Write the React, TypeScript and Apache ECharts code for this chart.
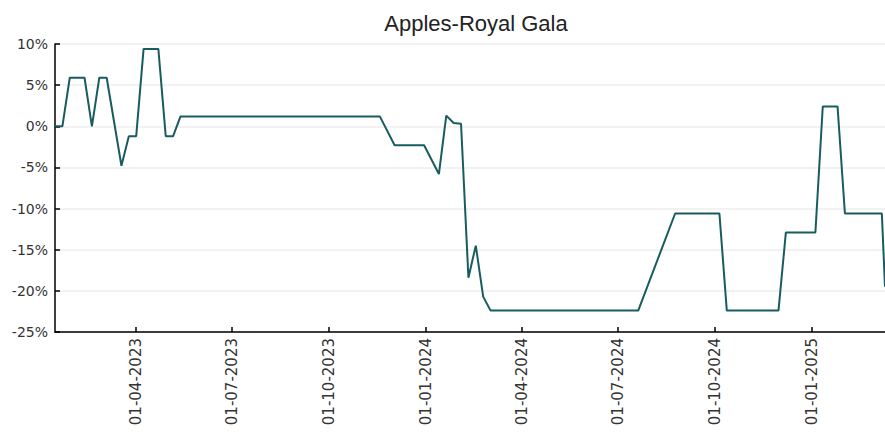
import React, { useEffect, useRef } from "react";
import * as echarts from "echarts";

const title = "Apples-Royal Gala";

// Vertices of the weekly price-change line (date, % change)
const dates = [
  "2023-01-14", "2023-01-21", "2023-01-28", "2023-02-11", "2023-02-18",
  "2023-02-25", "2023-03-04", "2023-03-18", "2023-03-25", "2023-04-01",
  "2023-04-08", "2023-04-22", "2023-04-29", "2023-05-06", "2023-05-13",
  "2023-11-18", "2023-12-02", "2023-12-30", "2024-01-13", "2024-01-20",
  "2024-01-27", "2024-02-03", "2024-02-10", "2024-02-17", "2024-02-24",
  "2024-03-02", "2024-07-20", "2024-08-24", "2024-10-05", "2024-10-12",
  "2024-11-30", "2024-12-07", "2025-01-04", "2025-01-11", "2025-01-25",
  "2025-02-01", "2025-03-08", "2025-03-11",
];
const changes = [
  0, 0, 5.9, 5.9, 0,
  5.9, 5.9, -4.8, -1.2, -1.2,
  9.4, 9.4, -1.2, -1.2, 1.2,
  1.2, -2.3, -2.3, -5.8, 1.3,
  0.4, 0.3, -18.4, -14.5, -20.7,
  -22.4, -22.4, -10.6, -10.6, -22.4,
  -22.4, -12.9, -12.9, 2.4, 2.4,
  -10.6, -10.6, -19.5,
];

const yMin = -25;
const yMax = 10;
const yStep = 5;

export default function App() {
  const ref = useRef<HTMLDivElement>(null);
  useEffect(() => {
    if (!ref.current) return;
    const chart = echarts.init(ref.current, null, { renderer: "svg" });
    const DAY = 24 * 3600 * 1000;
    chart.setOption({
      animation: false,
      backgroundColor: "#ffffff",
      title: {
        text: title,
        left: 471,
        textAlign: "center",
        top: 7,
        textStyle: {
          fontFamily: "Liberation Sans, Arial, sans-serif",
          fontSize: 22,
          fontWeight: "normal",
          color: "#222",
        },
      },
      grid: { left: 55, right: 0, top: 44, bottom: 105 },
      xAxis: {
        type: "time",
        min: "dataMin",
        max: "dataMax",
        minInterval: 89 * DAY,
        maxInterval: 93 * DAY,
        axisLine: { show: true, onZero: false, lineStyle: { color: "#000", width: 1.5 } },
        axisTick: { show: true, inside: true, length: 5, lineStyle: { color: "#000", width: 1.5 } },
        splitLine: { show: false },
        axisLabel: {
          rotate: 90,
          margin: 6,
          showMinLabel: false,
          showMaxLabel: false,
          fontFamily: "DejaVu Sans, sans-serif",
          fontSize: 15,
          color: "#333",
          formatter: (v: number) => echarts.time.format(v, "{dd}-{MM}-{yyyy}", false),
        },
      },
      yAxis: {
        type: "value",
        min: yMin,
        max: yMax,
        interval: yStep,
        axisLine: { show: true, lineStyle: { color: "#000", width: 1.5 } },
        axisTick: { show: true, inside: true, length: 5, lineStyle: { color: "#000", width: 1.5 } },
        splitLine: { show: true, lineStyle: { color: "#eeeeee", width: 1.5 } },
        axisLabel: {
          margin: 7,
          fontFamily: "DejaVu Sans, sans-serif",
          fontSize: 14,
          color: "#333",
          formatter: "{value}%",
        },
      },
      series: [
        {
          type: "line",
          data: dates.map((d, i) => [d, changes[i]]),
          showSymbol: false,
          symbol: "none",
          lineStyle: { color: "#185c5f", width: 2 },
          clip: true,
        },
      ],
    });
    return () => chart.dispose();
  }, []);
  return <div ref={ref} style={{ width: 885, height: 437, position: "absolute", left: 0, top: 0 }} />;
}
